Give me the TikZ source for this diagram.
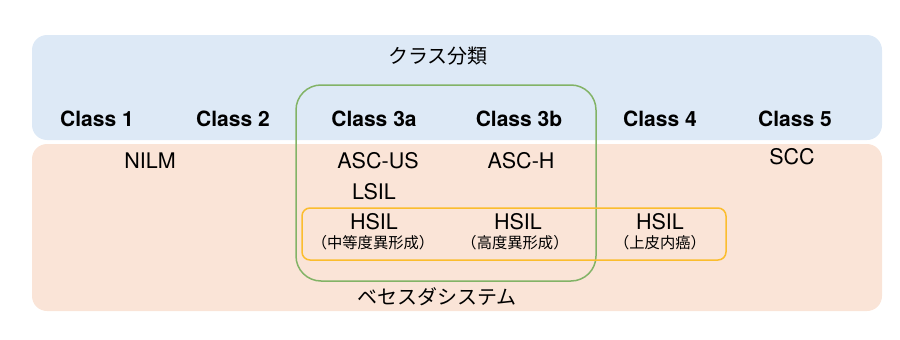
\documentclass[tikz,border=0pt]{standalone}
\usepackage{fontspec}
\setmainfont{TeX Gyre Heros}
\newfontfamily\jpfont{Noto Sans CJK JP}
\usepackage{xcolor}
\usetikzlibrary{positioning}

\definecolor{bandblue}{HTML}{DDE9F6}
\definecolor{bandpeach}{HTML}{FAE4D7}
\definecolor{grpgreen}{HTML}{82B366}
\definecolor{grpyellow}{HTML}{FBBD2E}

\begin{document}
\begin{tikzpicture}[x=1pt, y=-1pt,
                    band/.style={rounded corners=15pt},
                    cls/.style={font=\fontsize{21}{24}\selectfont\bfseries, inner sep=0pt},
                    res/.style={font=\fontsize{21.5}{24}\selectfont, inner sep=0pt},
                    note/.style={font=\fontsize{15.3}{17}\selectfont\jpfont, inner sep=0pt},
                    head/.style={font=\fontsize{20}{24}\selectfont\jpfont, inner sep=0pt}]
  \useasboundingbox (0,0) rectangle (900,340);
  % background bands
  \fill[band, bandblue] (32,35) rectangle (882,140);
  \fill[band, bandpeach] (32,144) rectangle (882,311);
  \node[head] (cls) at (438,56) {クラス分類};
  \node[head] (tbs) at (437,297) {ベセスダシステム};

  % classes
  \node[cls] (c1) at (97,119) {Class 1};
  \node[cls] (c2) at (233,119) {Class 2};
  \node[cls] (c3a) at (374,119) {Class 3a};
  \node[cls] (c3b) at (519,119) {Class 3b};
  \node[cls] (c4) at (660,119) {Class 4};
  \node[cls] (c5) at (795,119) {Class 5};

  % results
  \node[res] (nilm) at (150,161) {NILM};
  \node[res] (ascus) at (378,161) {ASC-US};
  \node[res] (asch) at (521,161) {ASC-H};
  \node[res] (scc) at (792,157) {SCC};
  \node[res] (lsil) at (374,192) {LSIL};
  \node[res] (hsil1) at (374,222) {HSIL};
  \node[res] (hsil2) at (518,222) {HSIL};
  \node[res] (hsil3) at (660,222) {HSIL};
  \node[note] (mod) at (373,243) {（中等度異形成）};
  \node[note] (sev) at (515,243) {（高度異形成）};
  \node[note] (cis) at (660,243) {（上皮内癌）};

  % groups
  \draw[grpgreen, line width=1.5pt, rounded corners=25pt] (296,85) rectangle (596,281);
  \draw[grpyellow, line width=1.5pt, rounded corners=8pt] (302,208) rectangle (726,260);
\end{tikzpicture}
\end{document}
